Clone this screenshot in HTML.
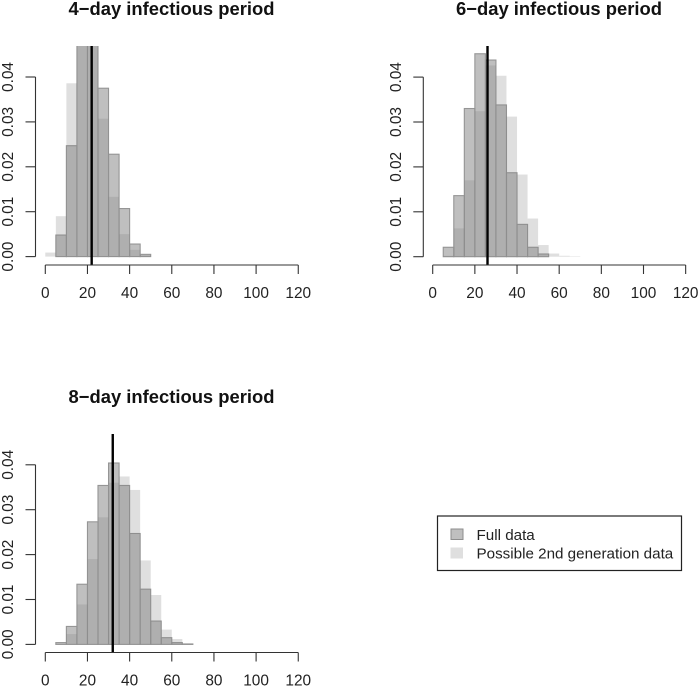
<!DOCTYPE html>
<html>
<head>
<meta charset="utf-8">
<title>Infectious period histograms</title>
<style>
html,body{margin:0;padding:0;background:#fff;width:700px;height:688px;overflow:hidden}
svg{display:block}
text{font-family:"Liberation Sans",sans-serif;fill:#222}
</style>
</head>
<body>
<svg id="chart" width="700" height="688" viewBox="0 0 700 688" xmlns="http://www.w3.org/2000/svg">
<g>
<rect x="437.5" y="516" width="244" height="54.5" fill="#fff" stroke="#222" stroke-width="1.2"/>
<rect x="451" y="529" width="12" height="10.5" fill="rgba(128,128,128,0.5)" stroke="#8e8e8e" stroke-width="1"/>
<rect x="450.5" y="547.5" width="12.5" height="11" fill="rgba(128,128,128,0.25)"/>
<text x="476.5" y="540" font-size="15.2">Full data</text>
<text x="476.5" y="558.5" font-size="15.2">Possible 2nd generation data</text>
</g>
</svg>
<script>
const binWidth = 5;
const xTicks = [0, 20, 40, 60, 80, 100, 120];
const yTicks = ["0.00", "0.01", "0.02", "0.03", "0.04"];

const titleA = "4\u2212day infectious period";
const fullA = [0, 0.0048, 0.0247, 0.058, 0.052, 0.0375, 0.0228, 0.0107, 0.0028, 0.0005];
const secondA = [0.0009, 0.009, 0.0386, 0.056, 0.048, 0.0307, 0.0133, 0.005, 0.0015, 0.0003];
const meanA = 22;

const titleB = "6\u2212day infectious period";
const fullB = [0, 0.0021, 0.0136, 0.033, 0.0452, 0.0438, 0.0338, 0.0187, 0.0072, 0.0021, 0.0006, 0, 0, 0];
const secondB = [0, 0.0002, 0.0063, 0.017, 0.0324, 0.0426, 0.0403, 0.0312, 0.0183, 0.0085, 0.0026, 0.0007, 0.0002, 0.0001];
const meanB = 26;

const titleC = "8\u2212day infectious period";
const fullC = [0, 0.0004, 0.004, 0.0134, 0.0273, 0.0354, 0.0404, 0.0354, 0.0247, 0.0123, 0.0052, 0.0015, 0.0004, 0.0001];
const secondC = [0, 0, 0.0023, 0.0089, 0.019, 0.0283, 0.036, 0.0374, 0.0344, 0.0187, 0.011, 0.0033, 0.0012, 0.0001];
const meanC = 32;

const svgNS = "http://www.w3.org/2000/svg";
const root = document.getElementById("chart");

function mk(parent, tag, attrs) {
  const el = document.createElementNS(svgNS, tag);
  for (const k in attrs) el.setAttribute(k, attrs[k]);
  parent.appendChild(el);
  return el;
}

function drawPanel(prefix, title, full, second, mean, frame) {
  const xScale = v => frame.x0 + v * 2.108;
  const yScale = v => frame.y0 - v * 4490;
  const g = mk(root, "g", {});
  
  

  const clipId = "clip-" + prefix;
  const clip = mk(g, "clipPath", { id: clipId });
  mk(clip, "rect", { x: frame.x0 - 20, y: frame.top, width: 300, height: frame.axisY - frame.top + 1 });

  const bars = mk(g, "g", { "clip-path": "url(#" + clipId + ")" });
  full.forEach((v, i) => {
    if (v <= 0) return;
    const r = mk(bars, "rect", {
      x: xScale(i * binWidth), y: yScale(v),
      width: xScale(binWidth) - xScale(0), height: yScale(0) - yScale(v),
      fill: "rgba(128,128,128,0.5)", stroke: "#959595", "stroke-width": 1.1
    });
    
    
  });
  second.forEach((v, i) => {
    if (v <= 0) return;
    const r = mk(bars, "rect", {
      x: xScale(i * binWidth), y: yScale(v),
      width: xScale(binWidth) - xScale(0), height: yScale(0) - yScale(v),
      fill: "rgba(128,128,128,0.25)"
    });
    
    
  });

  const meanLine = mk(g, "line", {
    x1: xScale(mean), x2: xScale(mean), y1: frame.top, y2: frame.axisY,
    stroke: "#000", "stroke-width": 2.4
  });
  
  

  const xAxis = mk(g, "g", {});
  
  
  mk(xAxis, "line", {
    x1: xScale(xTicks[0]), x2: xScale(xTicks[xTicks.length - 1]),
    y1: frame.axisY, y2: frame.axisY, stroke: "#333", "stroke-width": 1.1
  });
  xTicks.forEach(t => {
    mk(xAxis, "line", {
      x1: xScale(t), x2: xScale(t), y1: frame.axisY, y2: frame.axisY + 9,
      stroke: "#333", "stroke-width": 1.1
    });
    const label = mk(xAxis, "text", {
      x: xScale(t), y: frame.axisY + 33, "font-size": 15.4, "text-anchor": "middle"
    });
    
    
    label.textContent = t;
  });

  const yAxis = mk(g, "g", {});
  
  
  mk(yAxis, "line", {
    x1: frame.axisX, x2: frame.axisX,
    y1: yScale(+yTicks[0]), y2: yScale(+yTicks[yTicks.length - 1]),
    stroke: "#333", "stroke-width": 1.1
  });
  yTicks.forEach(t => {
    const y = yScale(+t);
    mk(yAxis, "line", {
      x1: frame.axisX - 10, x2: frame.axisX, y1: y, y2: y,
      stroke: "#333", "stroke-width": 1.1
    });
    const lx = frame.axisX - 22.5;
    const label = mk(yAxis, "text", {
      x: lx, y: y, "font-size": 15.4, "text-anchor": "middle",
      transform: "rotate(-90 " + lx + " " + y + ")"
    });
    
    
    label.textContent = t;
  });

  const head = mk(g, "text", {
    x: frame.titleX, y: frame.titleY, "font-size": 18.4,
    "font-weight": "bold", "text-anchor": "middle", style: "fill:#111"
  });
  
  
  head.textContent = title;
}

drawPanel("a", titleA, fullA, secondA, meanA,
  { x0: 45.3, y0: 256.6, axisY: 265, axisX: 35.5, top: 46, titleX: 171.5, titleY: 15 });
drawPanel("b", titleB, fullB, secondB, meanB,
  { x0: 432.7, y0: 256.7, axisY: 265, axisX: 423.3, top: 46, titleX: 559, titleY: 15 });
drawPanel("c", titleC, fullC, secondC, meanC,
  { x0: 45.3, y0: 644.4, axisY: 652.5, axisX: 35.5, top: 434, titleX: 171.5, titleY: 403 });
</script>
</body>
</html>
